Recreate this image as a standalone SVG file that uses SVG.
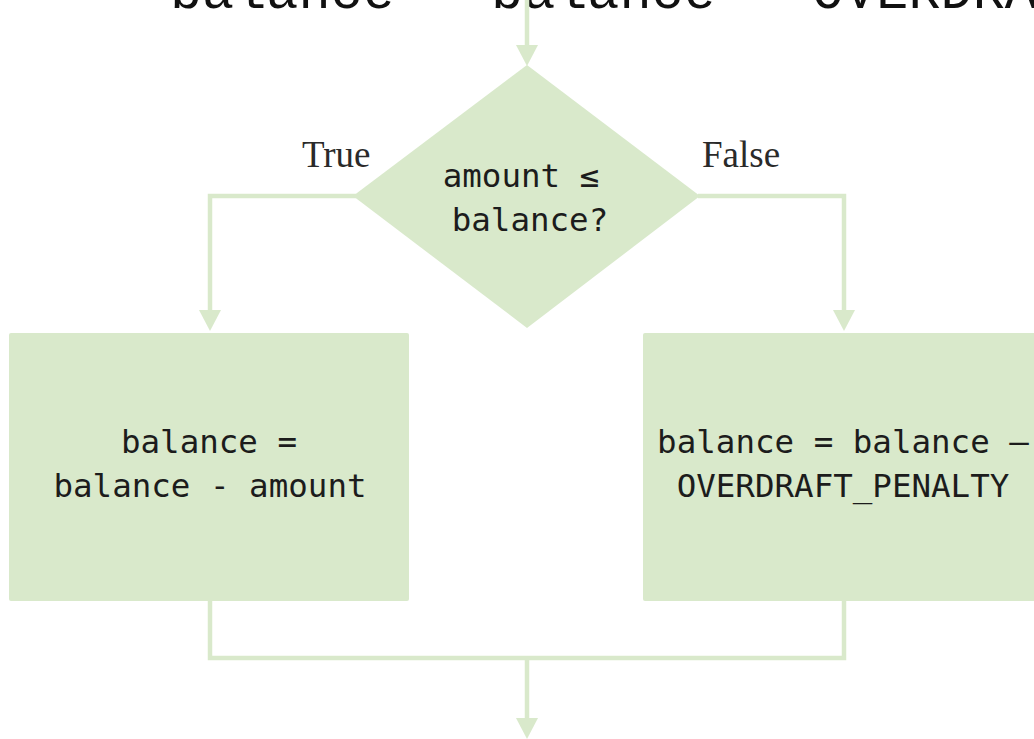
<svg xmlns="http://www.w3.org/2000/svg" width="1034" height="739" viewBox="0 0 1034 739">
  <style>
    .shape { fill: #d9e9cb; }
    .conn { fill: none; stroke: #d9e9cb; stroke-width: 4.5; }
    .head { fill: #d9e9cb; }
    .code { font-family: "DejaVu Sans Mono", "Liberation Mono", monospace; font-size: 32.5px; fill: #1c1c1c; }
    .lbl { font-family: "Liberation Serif", "DejaVu Serif", serif; font-size: 37px; fill: #2a2a2a; }
    .top { font-family: "Liberation Mono", "Courier New", monospace; font-size: 53.5px; fill: #111; }
  </style>
  <rect width="1034" height="739" fill="#ffffff"/>
  <g id="top-text">
    <text class="top" x="170" y="8">balance = balance - OVERDRAFT_PENALTY</text>
  </g>
  <g id="connectors">
    <path class="conn" d="M527,0 V48"/>
    <polygon class="head" points="516,45 538,45 527,66"/>
    <path class="conn" d="M356,196 H210 V312"/>
    <polygon class="head" points="199,310 221,310 210,331"/>
    <path class="conn" d="M698,196 H844 V312"/>
    <polygon class="head" points="833,310 855,310 844,331"/>
    <path class="conn" d="M210,600 V658 H844 V600"/>
    <path class="conn" d="M527,658 V721"/>
    <polygon class="head" points="516,718 538,718 527,739"/>
    <text class="lbl" x="302" y="167">True</text>
    <text class="lbl" x="702" y="167">False</text>
  </g>
  <g id="decision">
    <polygon class="shape" points="527,65 700,196 527,328 353,196"/>
    <text class="code" x="521" y="187" text-anchor="middle">amount ≤</text>
    <text class="code" x="530" y="231" text-anchor="middle">balance?</text>
  </g>
  <g id="true-box">
    <rect class="shape" x="9" y="333" width="400" height="268" rx="2"/>
    <text class="code" x="209" y="453" text-anchor="middle">balance =</text>
    <text class="code" x="210" y="497" text-anchor="middle">balance - amount</text>
  </g>
  <g id="false-box">
    <rect class="shape" x="643" y="333" width="402" height="268" rx="2"/>
    <text class="code" x="843" y="453" text-anchor="middle">balance = balance –</text>
    <text class="code" x="843" y="497" text-anchor="middle">OVERDRAFT_PENALTY</text>
  </g>
</svg>
